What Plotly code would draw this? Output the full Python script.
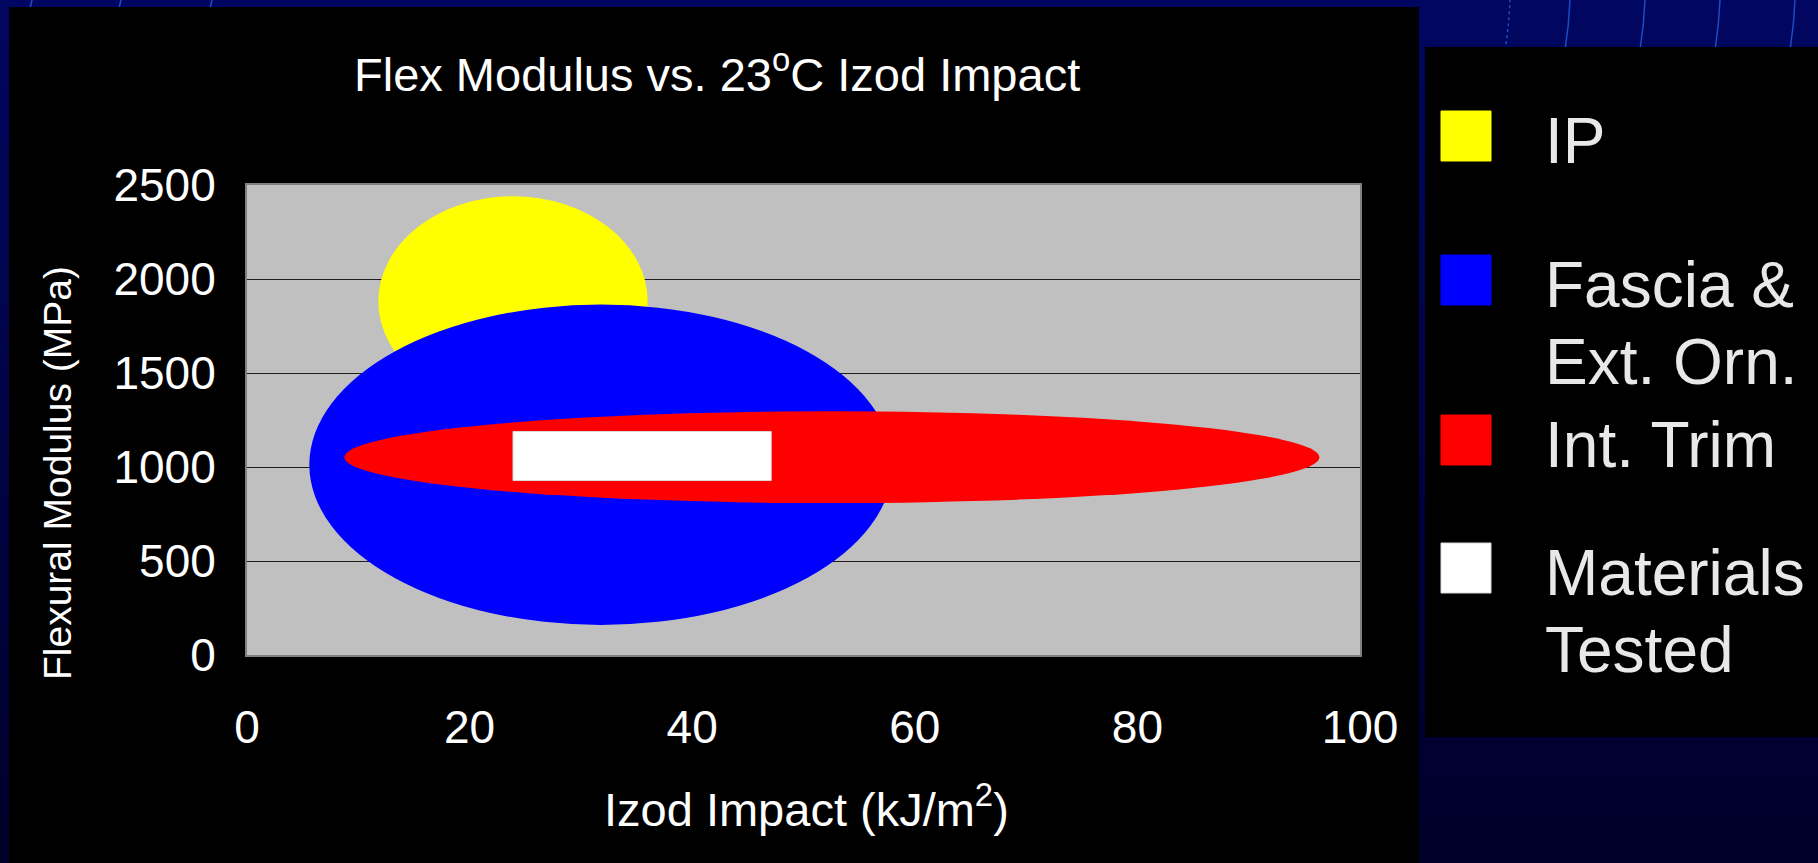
import plotly.graph_objects as go

# ---------------- data ----------------
title_text = "Flex Modulus vs. 23<sup>o</sup>C Izod Impact"
x_title = "Izod Impact (kJ/m<sup>2</sup>)"
y_title = "Flexural Modulus (MPa)"

categories = ["IP", "Fascia &<br>Ext. Orn.", "Int. Trim", "Materials<br>Tested"]
colors = ["#FFFF00", "#0000FF", "#FF0000", "#FFFFFF"]
region_kind = ["circle", "circle", "circle", "rect"]
x_low = [11.8, 5.6, 8.75, 23.9]
x_high = [36.0, 58.0, 96.35, 47.1]
y_low = [1322, 160, 808, 928]
y_high = [2440, 1864, 1296, 1189]

x_ticks = [0, 20, 40, 60, 80, 100]
y_ticks = [0, 500, 1000, 1500, 2000, 2500]

# ---------------- layout geometry (pixels) ----------------
FIG_W, FIG_H = 1818, 863
PL, PR, PT, PB = 247, 1360, 185, 655
FONT = "Liberation Sans, Arial, sans-serif"


def fx(p):
    return (p - PL) / (PR - PL)


def fy(p):
    return (PB - p) / (PB - PT)


shapes = []
# background gradient (navy)
n_bands = 40
top_rgb = (1, 6, 96)
bot_rgb = (0, 0, 42)
for i in range(n_bands):
    t = i / (n_bands - 1)
    c = tuple(round(top_rgb[k] + (bot_rgb[k] - top_rgb[k]) * t) for k in range(3))
    y0 = FIG_H * i / n_bands
    y1 = FIG_H * (i + 1) / n_bands + 1
    shapes.append(dict(type="rect", xref="paper", yref="paper", layer="below",
                       x0=fx(0), x1=fx(FIG_W), y0=fy(y1), y1=fy(y0),
                       fillcolor="rgb(%d,%d,%d)" % c, line=dict(width=0)))

# decorative arcs in the template background
for xa, dash in [(1508, "dot"), (1568, "solid"), (1643, "solid"), (1718, "solid"), (1793, "solid")]:
    shapes.append(dict(type="path", xref="paper", yref="paper", layer="below",
                       path="M %f,%f Q %f,%f %f,%f" % (fx(xa - 3), fy(50), fx(xa + 1), fy(25), fx(xa + 2), fy(0)),
                       line=dict(color="#1d4cc4", width=1.5, dash=dash)))
for xa in [30, 119, 210]:
    shapes.append(dict(type="line", xref="paper", yref="paper", layer="below",
                       x0=fx(xa), y0=fy(8), x1=fx(xa + 2), y1=fy(0),
                       line=dict(color="#1d4cc4", width=1.5)))

# black chart panel
shapes.append(dict(type="rect", xref="paper", yref="paper", layer="below",
                   x0=fx(9), x1=fx(1419), y0=fy(FIG_H + 2), y1=fy(7),
                   fillcolor="#000000", line=dict(width=0)))
# black legend panel
shapes.append(dict(type="rect", xref="paper", yref="paper", layer="below",
                   x0=fx(1425), x1=fx(FIG_W + 2), y0=fy(737), y1=fy(47),
                   fillcolor="#000000", line=dict(width=0)))
# plot area background
shapes.append(dict(type="rect", xref="paper", yref="paper", layer="below",
                   x0=0, x1=1, y0=0, y1=1, fillcolor="#C0C0C0", line=dict(width=0)))

# data regions (through the axis scales)
for i in range(len(categories)):
    shapes.append(dict(type=region_kind[i], xref="x", yref="y", layer="above",
                       x0=x_low[i], x1=x_high[i], y0=y_low[i], y1=y_high[i],
                       fillcolor=colors[i],
                       line=dict(width=1 if region_kind[i] == "rect" else 0,
                                 color="#D8D8D8" if region_kind[i] == "rect" else colors[i])))

annotations = []
# title
annotations.append(dict(text=title_text, xref="paper", yref="paper", x=fx(717), y=fy(71),
                        xanchor="center", yanchor="middle", showarrow=False,
                        font=dict(family=FONT, size=47, color="#FFFFFF")))
# x title
annotations.append(dict(text=x_title, xref="paper", yref="paper", x=fx(806), y=fy(806),
                        xanchor="center", yanchor="middle", showarrow=False,
                        font=dict(family=FONT, size=47, color="#FFFFFF")))
# y title
annotations.append(dict(text=y_title, xref="paper", yref="paper", x=fx(57), y=fy(473),
                        xanchor="center", yanchor="middle", showarrow=False, textangle=-90,
                        font=dict(family=FONT, size=39, color="#FFFFFF")))

# custom legend
sw_tops = [111, 255, 415, 543]
for i, cat in enumerate(categories):
    t = sw_tops[i]
    shapes.append(dict(type="rect", xref="paper", yref="paper", layer="above",
                       x0=fx(1441), x1=fx(1491), y0=fy(t + 50), y1=fy(t),
                       fillcolor=colors[i],
                       line=dict(width=1, color="#D8D8D8" if colors[i] == "#FFFFFF" else colors[i])))
    for j, line in enumerate(cat.split("<br>")):
        annotations.append(dict(text=line, xref="paper", yref="paper",
                                x=fx(1543), y=fy(t + 30 + 77 * j),
                                xanchor="left", yanchor="middle", showarrow=False,
                                font=dict(family=FONT, size=64, color="#E8E8E8")))

fig = go.Figure()
fig.update_layout(
    width=FIG_W, height=FIG_H, autosize=False,
    margin=dict(l=PL, r=FIG_W - PR, t=PT, b=FIG_H - PB, pad=0),
    paper_bgcolor="#000050", plot_bgcolor="rgba(0,0,0,0)",
    showlegend=False,
    shapes=shapes, annotations=annotations,
    xaxis=dict(range=[0, 100], tickvals=x_ticks, showgrid=False, zeroline=False,
               showline=True, linecolor="#808080", linewidth=2, mirror=True,
               ticks="", ticklabelstandoff=31,
               tickfont=dict(family=FONT, size=46, color="#FFFFFF"), fixedrange=True),
    yaxis=dict(range=[0, 2500], tickvals=y_ticks, showgrid=True, gridcolor="#1E1E1E",
               gridwidth=1, zeroline=False,
               showline=True, linecolor="#808080", linewidth=2, mirror=True,
               ticks="", ticklabelstandoff=20,
               tickfont=dict(family=FONT, size=46, color="#FFFFFF"), fixedrange=True),
)

fig.write_html("out.html", include_plotlyjs=True,
               config={"displayModeBar": False},
               post_script="document.body.style.margin='0';document.body.style.overflow='hidden';")
